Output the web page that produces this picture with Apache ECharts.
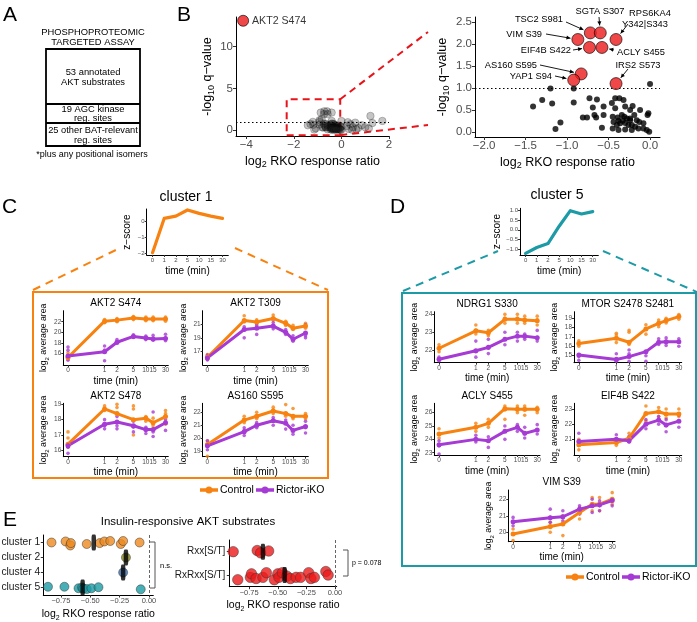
<!DOCTYPE html>
<html><head><meta charset="utf-8">
<script src="https://cdn.jsdelivr.net/npm/echarts@6/dist/echarts.min.js"></script>
<style>html,body{margin:0;padding:0;background:#fff}#c{width:697px;height:622px}</style>
</head><body><div id="c"></div>
<script>
// ---------------- DATA ----------------
const timePoints = [0, 1, 2, 5, 10, 15, 30];
const timeLabels = ['0', '1', '2', '5', '10', '15', '30'];

// Panel B volcano
const akt2S474Point = [-4.13, 13.1];
const hitNames = ['VIM S39', 'TSC2 S981', 'SGTA S307', 'RPS6KA4 Y342|S343', 'EIF4B S422', 'ACLY S455', 'AS160 S595', 'YAP1 S94', 'IRS2 S573'];
const hitX = [-0.87, -0.72, -0.60, -0.41, -0.73, -0.58, -0.83, -0.92, -0.41];
const hitY = [2.10, 2.25, 2.25, 2.10, 1.92, 1.92, 1.32, 1.18, 1.10];
const otherX = [-1.20, -0.92, 0.00, -1.30, -1.41, -1.18, -0.92, -1.08, -1.14,
  -0.73, -0.64, -0.69, -0.56, -0.46, -0.42, -0.37, -0.32, -0.42, -0.30, -0.24, -0.21, -0.12, -0.03, -0.02,
  -0.81, -0.76, -0.67, -0.65, -0.56, -0.45, -0.39, -0.34, -0.31, -0.28, -0.24, -0.19, -0.16, -0.13, -0.08,
  -0.58, -0.45, -0.40, -0.36, -0.33, -0.30, -0.26, -0.22, -0.18, -0.14, -0.08, -0.04, -0.01, -0.24, -0.38, -0.44,
  -0.38, -0.30, -0.22];
const otherY = [0.99, 0.99, 1.09, 0.73, 0.58, 0.65, 0.67, 0.22, 0.07,
  0.77, 0.74, 0.56, 0.58, 0.66, 0.77, 0.77, 0.73, 0.54, 0.58, 0.50, 0.59, 0.50, 0.39, 0.43,
  0.33, 0.33, 0.39, 0.33, 0.39, 0.35, 0.33, 0.39, 0.35, 0.31, 0.31, 0.39, 0.27, 0.23, 0.20,
  0.10, 0.08, 0.16, 0.20, 0.26, 0.21, 0.16, 0.16, 0.12, 0.08, 0.08, 0.05, 0.01, 0.27, 0.26, 0.23,
  0.05, 0.06, 0.05];
const extraX = [0.22, 0.30, 0.38, 0.48, 0.58, 0.70, 0.85, 1.00, 1.22, 1.72, 1.30, 0.27, 0.62, 1.15, 0.45];
const extraY = [0.50, 0.15, 0.70, 0.35, 0.90, 0.25, 0.60, 0.35, 1.70, 1.10, 0.85, 0.95, 0.10, 0.20, 0.05];

// Cluster z-score profiles
const cluster1Z = [-1.96, 0.16, 0.30, 0.68, 0.47, 0.30, 0.16];
const cluster5Z = [-1.20, -0.90, -0.70, 0.18, 0.97, 0.80, 0.92];

// Time courses (log2 average area): means and replicates, Control / Rictor-iKO
const akt2S474Ctrl = [15.2, 22.1, 22.3, 22.7, 22.5, 22.5, 22.5];
const akt2S474Ric = [15.5, 16.3, 18.1, 19.2, 18.9, 18.7, 18.8];
const akt2S474CtrlReps = [[16.1, 15.3, 14.9], [22.4, 21.8, 22.0], [22.6, 22.0, 22.3], [23.0, 22.4, 22.8], [22.9, 22.2, 22.5], [22.9, 22.2, 22.5], [22.9, 22.1, 22.5]];
const akt2S474RicReps = [[17.2, 16.6, 14.7], [17.4, 16.6, 14.6], [18.6, 17.9, 18.2], [19.5, 19.0, 19.2], [19.3, 18.6, 18.9], [19.4, 18.5, 18.7], [19.6, 18.4, 18.9]];

const akt2T309Ctrl = [16.2, 21.5, 21.3, 21.8, 21.1, 20.4, 20.7];
const akt2T309Ric = [16.1, 20.2, 20.4, 20.7, 19.8, 18.8, 19.7];
const akt2T309CtrlReps = [[16.6, 16.2, 15.9], [22.2, 21.3, 21.5], [21.6, 21.0, 21.3], [22.3, 21.6, 21.8], [21.4, 20.8, 21.1], [20.8, 20.2, 20.4], [21.1, 20.4, 20.7]];
const akt2T309RicReps = [[16.5, 16.0, 15.8], [20.6, 19.0, 20.2], [20.8, 19.5, 20.4], [21.2, 20.3, 20.7], [20.2, 19.5, 19.8], [19.3, 18.5, 18.8], [20.9, 19.0, 19.3]];

const akt2S478Ctrl = [16.4, 18.7, 18.4, 18.0, 18.1, 17.8, 18.2];
const akt2S478Ric = [16.3, 17.7, 17.85, 17.6, 17.35, 17.35, 17.8];
const akt2S478CtrlReps = [[17.2, 16.8, 16.2], [18.9, 18.6, 18.7], [19.0, 18.8, 18.4], [18.9, 18.7, 17.0], [18.2, 17.9, 18.1], [18.1, 17.6, 17.8], [18.6, 18.4, 17.7]];
const akt2S478RicReps = [[16.4, 16.2, 15.8], [18.0, 17.6, 17.4], [18.2, 17.6, 17.4], [17.9, 17.5, 17.2], [17.5, 17.3, 17.1], [18.5, 17.2, 16.9], [18.0, 17.8, 17.3]];

const as160S595Ctrl = [19.5, 21.4, 21.7, 22.1, 21.9, 21.7, 21.7];
const as160S595Ric = [19.4, 20.5, 21.0, 21.35, 21.15, 20.6, 20.9];
const as160S595CtrlReps = [[19.8, 19.4, 18.6], [21.7, 21.4, 21.2], [22.0, 21.7, 21.5], [22.4, 22.2, 21.9], [22.6, 21.9, 21.7], [22.3, 21.7, 21.5], [21.9, 21.7, 21.5]];
const as160S595RicReps = [[19.8, 19.5, 19.1], [20.8, 20.6, 20.2], [21.2, 21.0, 20.8], [21.6, 21.4, 21.0], [21.4, 21.2, 20.7], [21.0, 20.6, 20.3], [21.3, 20.8, 20.4]];

const ndrg1Ctrl = [22.1, 23.08, 22.97, 23.72, 23.72, 23.68, 23.64];
const ndrg1Ric = [21.48, 21.96, 22.15, 22.6, 22.78, 22.78, 22.69];
const ndrg1CtrlReps = [[22.3, 22.1, 21.9], [23.4, 23.1, 22.9], [23.1, 22.9, 22.8], [24.0, 23.8, 23.5], [24.0, 23.8, 23.5], [23.9, 23.7, 23.5], [23.9, 23.7, 23.4]];
const ndrg1RicReps = [[21.6, 21.5, 21.4], [22.5, 21.9, 21.6], [22.6, 22.1, 21.8], [23.0, 22.6, 22.3], [23.0, 22.8, 22.5], [22.9, 22.8, 22.6], [23.1, 22.7, 22.5]];

const mtorCtrl = [16.3, 16.86, 16.43, 17.86, 18.46, 18.75, 19.18];
const mtorRic = [15.07, 14.6, 14.9, 15.43, 16.43, 16.5, 16.5];
const mtorCtrlReps = [[16.6, 16.3, 16.0], [17.4, 17.2, 16.4], [17.7, 17.5, 16.2], [18.3, 17.9, 17.3], [18.8, 18.4, 18.1], [19.0, 18.7, 18.5], [19.4, 19.2, 18.9]];
const mtorRicReps = [[15.1, 14.9, 14.5], [15.2, 14.7, 14.4], [15.6, 15.2, 14.4], [15.4, 15.0, 14.4], [16.8, 16.4, 16.2], [16.9, 16.5, 16.1], [16.8, 16.5, 16.0]];

const aclyCtrl = [24.4, 24.9, 25.2, 26.3, 26.25, 26.25, 26.25];
const aclyRic = [23.6, 24.0, 23.9, 24.6, 24.9, 24.45, 24.7];
const aclyCtrlReps = [[24.8, 24.4, 24.1], [25.2, 24.9, 24.6], [25.5, 25.2, 24.9], [26.5, 26.2, 25.5], [26.5, 26.3, 26.0], [26.5, 26.2, 25.8], [26.4, 26.2, 26.0]];
const aclyRicReps = [[23.9, 23.5, 22.9], [24.3, 24.0, 23.8], [24.2, 23.9, 23.4], [25.0, 24.6, 24.0], [25.1, 24.9, 24.6], [24.9, 24.4, 24.1], [25.1, 24.7, 24.4]];

const eif4bCtrl = [20.63, 20.78, 21.07, 22.71, 22.82, 22.67, 22.67];
const eif4bRic = [20.85, 21.0, 20.91, 22.0, 22.27, 21.95, 22.2];
const eif4bCtrlReps = [[21.0, 20.6, 20.3], [21.0, 20.8, 20.6], [21.4, 21.1, 20.9], [23.2, 22.7, 22.2], [23.1, 22.8, 22.5], [23.0, 22.7, 22.4], [23.0, 22.7, 22.5]];
const eif4bRicReps = [[21.4, 20.9, 20.6], [21.3, 21.0, 20.8], [21.2, 20.9, 20.8], [22.3, 22.0, 21.7], [22.5, 22.3, 22.0], [22.3, 21.9, 21.5], [22.6, 22.2, 21.8]];

const vimCtrl = [19.9, 20.35, 20.5, 21.2, 21.7, 21.7, 22.0];
const vimRic = [20.64, 20.88, 20.94, 21.4, 21.6, 21.66, 21.92];
const vimCtrlReps = [[20.2, 19.9, 19.5], [20.6, 20.3, 20.0], [21.0, 20.5, 19.8], [21.5, 21.2, 20.8], [22.1, 21.7, 21.3], [22.1, 21.7, 21.3], [22.4, 22.0, 21.7]];
const vimRicReps = [[20.9, 20.6, 20.4], [21.4, 20.9, 20.6], [21.3, 20.9, 20.7], [21.6, 21.4, 21.1], [22.0, 21.6, 21.2], [21.9, 21.6, 21.3], [22.0, 21.9, 21.6]];

// Panel E
const clusterNames = ['cluster 1', 'cluster 2', 'cluster 4', 'cluster 5'];
const cluster1X = [-0.83, -0.71, -0.67, -0.665, -0.53, -0.42, -0.38, -0.33, -0.24, -0.22, -0.08];
const cluster1J = [0.0, -0.07, 0.2, 0.04, 0.1, 0.04, -0.07, -0.1, 0.1, -0.1, 0.0];
const cluster2X = [-0.196];
const cluster4X = [-0.22];
const cluster5X = [-0.86, -0.72, -0.60, -0.57, -0.56, -0.53, -0.49, -0.43, -0.07];
const cluster5J = [-0.05, -0.05, 0.05, 0.0, 0.08, 0.1, 0.05, -0.02, 0.12];
const clusterMedians = [-0.47, -0.196, -0.22, -0.565];
const motifNames = ['Rxx[S/T]', 'RxRxx[S/T]'];
const rxxX = [-0.89, -0.68, -0.65, -0.58];
const rxxJ = [0.0, -0.05, 0.05, -0.03];
const rxrxxX = [-0.85, -0.74, -0.73, -0.69, -0.63, -0.60, -0.53, -0.50, -0.49, -0.46, -0.42, -0.39, -0.34, -0.30, -0.23, -0.21, -0.18, -0.08, -0.06];
const rxrxxJ = [0.2, 0.1, -0.05, 0.15, 0.1, -0.1, 0.2, -0.05, 0.1, -0.1, 0.05, 0.15, 0.1, 0.1, -0.1, 0.15, 0.1, -0.15, 0.0];
const motifMedians = [-0.63, -0.44];

// ---------------- STYLE / LAYOUT ----------------
const F = '"Liberation Sans", Arial, Helvetica, sans-serif';
const ORANGE = '#F8820F', PURPLE = '#A63AD4', TEAL = '#1C9AA6', RED = '#EC1A1A';
const T0 = 0.13; // axis position used for t = 0 on the log time axis
const timePos = timePoints.map(t => (t === 0 ? T0 : t));
const minus = s => s.replace('-', '\u2212');

const chart = echarts.init(document.getElementById('c'), null, {renderer: 'canvas', width: 697, height: 622});
const grids = [], xAxes = [], yAxes = [], series = [];

function richName(sz) {
  const sub = Math.round(sz * 0.68);
  return {fontFamily: F, fontSize: sz, color: '#000',
    rich: {a: {fontFamily: F, fontSize: sz, color: '#000', lineHeight: sz + 4, verticalAlign: 'middle'},
           b: {fontFamily: F, fontSize: sub, color: '#000', lineHeight: sub, verticalAlign: 'bottom'}}};
}
function addGrid(box) {
  grids.push(Object.assign({show: false, containLabel: false, outerBoundsMode: 'none'}, box));
  return grids.length - 1;
}
function mkAxis(o) {
  const a = {
    type: o.type || 'value', gridIndex: o.gi, inverse: !!o.inverse,
    axisLine: {show: true, onZero: false, lineStyle: {color: '#000', width: 1}},
    axisTick: {show: true, length: o.tickLen || 2.5, lineStyle: {color: '#333', width: 1}},
    axisLabel: {show: true, formatter: o.fmt, fontSize: o.fontSize || 7, fontFamily: F,
      color: o.labelColor || '#4d4d4d', margin: o.labelMargin == null ? 2 : o.labelMargin},
    splitLine: {show: false}, minorTick: {show: false}, minorSplitLine: {show: false}
  };
  if (o.type === 'category') {
    a.data = o.data; a.boundaryGap = true; a.axisTick.alignWithLabel = true; a.axisTick.interval = 0; a.axisLabel.interval = 0;
  } else {
    a.min = o.min; a.max = o.max;
    a.axisTick.customValues = o.ticks; a.axisLabel.customValues = o.ticks;
  }
  if (o.type === 'log') a.logBase = 10;
  if (o.name) {
    a.name = o.name; a.nameLocation = 'middle'; a.nameGap = o.nameGap;
    a.nameRotate = o.rotateName ? 90 : 0; a.nameTextStyle = richName(o.nameSize || 10);
  }
  return a;
}
const fmtTime = v => (v < 0.5 ? '0' : String(Math.round(v)));

const graphics = [];
function txt(text, x, y, size, extra) {
  graphics.push({type: 'text', silent: true, z: 100,
    style: Object.assign({text: text, x: x, y: y, font: size + 'px ' + F, fill: '#000', align: 'center', verticalAlign: 'middle'}, extra || {})});
}
function gline(x1, y1, x2, y2, color, w, dash) {
  graphics.push({type: 'line', silent: true, z: 90, shape: {x1, y1, x2, y2},
    style: {stroke: color, lineWidth: w, lineDash: dash || null}});
}
function grect(x, y, w, h, color, lw) {
  graphics.push({type: 'rect', silent: true, z: 90, shape: {x, y, width: w, height: h},
    style: {fill: null, stroke: color, lineWidth: lw}});
}

// ---------- Panel B ----------
const gBL = addGrid({left: 236, top: 17, width: 153, height: 119});
xAxes.push(mkAxis({gi: gBL, min: -4.43, max: 2, ticks: [-4, -2, 0, 2], fmt: v => minus(String(v)), fontSize: 11.5, labelMargin: 3, tickLen: 3,
  name: '{a|log}{b|2}{a| RKO response ratio}', nameGap: 17, nameSize: 12.5}));
yAxes.push(mkAxis({gi: gBL, min: -0.7, max: 13.55, ticks: [0, 5, 10], fmt: v => String(v), fontSize: 11.5, labelMargin: 3, tickLen: 3,
  name: '{a|-log}{b|10}{a| q\u2212value}', nameGap: 20, nameSize: 12.5, rotateName: true}));

const grayData = [];
otherX.forEach((x, i) => grayData.push([x, otherY[i]]));
hitX.forEach((x, i) => grayData.push([x, hitY[i]]));
extraX.forEach((x, i) => grayData.push([x, extraY[i]]));
series.push({type: 'scatter', xAxisIndex: gBL, yAxisIndex: gBL, data: grayData, symbolSize: 7.5, silent: true,
  itemStyle: {color: 'rgba(30,30,30,0.32)', borderColor: 'rgba(0,0,0,0.35)', borderWidth: 0.8},
  markLine: {silent: true, symbol: 'none', label: {show: false}, lineStyle: {color: '#000', type: [1.5, 2.5], width: 1},
    data: [{yAxis: 1}]},
  markArea: {silent: true, itemStyle: {color: 'rgba(0,0,0,0)', borderColor: '#E8141A', borderWidth: 2, borderType: [7, 5]},
    data: [[{coord: [-2.3, -0.6]}, {coord: [-0.05, 3.7]}]]}
});
series.push({type: 'scatter', xAxisIndex: gBL, yAxisIndex: gBL, data: [akt2S474Point], symbolSize: 11, silent: true, z: 5,
  itemStyle: {color: RED, borderColor: '#000', borderWidth: 0.8},
  label: {show: true, position: 'right', distance: 3, formatter: 'AKT2 S474', fontFamily: F, fontSize: 10.6, color: '#000'}});

const gBR = addGrid({left: 475, top: 17, width: 185, height: 120});
const fmt1 = v => minus(v.toFixed(1));
xAxes.push(mkAxis({gi: gBR, min: -2.11, max: 0.12, ticks: [-2, -1.5, -1, -0.5, 0], fmt: fmt1, fontSize: 11.5, labelMargin: 3, tickLen: 3,
  name: '{a|log}{b|2}{a| RKO response ratio}', nameGap: 17, nameSize: 12.5}));
yAxes.push(mkAxis({gi: gBR, min: -0.11, max: 2.61, ticks: [0, 0.5, 1, 1.5, 2, 2.5], fmt: fmt1, fontSize: 11.5, labelMargin: 3, tickLen: 3,
  name: '{a|-log}{b|10}{a| q\u2212value}', nameGap: 24, nameSize: 12.5, rotateName: true}));
series.push({type: 'scatter', xAxisIndex: gBR, yAxisIndex: gBR, data: otherX.map((x, i) => [x, otherY[i]]), symbolSize: 6, silent: true,
  itemStyle: {color: '#000'},
  markLine: {silent: true, symbol: 'none', label: {show: false}, lineStyle: {color: '#000', type: [1.5, 2.5], width: 1},
    data: [{yAxis: 1}]}});
series.push({type: 'scatter', xAxisIndex: gBR, yAxisIndex: gBR, data: hitX.map((x, i) => [x, hitY[i]]), symbolSize: 12, silent: true, z: 5,
  itemStyle: {color: RED, borderColor: '#000', borderWidth: 0.8}});

// hit labels (layout only)
const hitLabelLayout = [
  {hit: 'SGTA S307', lines: [['SGTA S307', 600, 11]], align: 'center', ax: 599, ay: 17},
  {hit: 'TSC2 S981', lines: [['TSC2 S981', 563, 19]], align: 'right', ax: 566, ay: 22},
  {hit: 'RPS6KA4 Y342|S343', lines: [['RPS6KA4', 650, 13], ['Y342|S343', 645, 24]], align: 'center', ax: 628, ay: 24},
  {hit: 'VIM S39', lines: [['VIM S39', 542, 34]], align: 'right', ax: 546, ay: 34},
  {hit: 'EIF4B S422', lines: [['EIF4B S422', 571, 50]], align: 'right', ax: 573, ay: 50},
  {hit: 'ACLY S455', lines: [['ACLY S455', 617, 52]], align: 'left', ax: 614, ay: 50},
  {hit: 'AS160 S595', lines: [['AS160 S595', 537, 65]], align: 'right', ax: 540, ay: 65},
  {hit: 'YAP1 S94', lines: [['YAP1 S94', 552, 76]], align: 'right', ax: 555, ay: 76},
  {hit: 'IRS2 S573', lines: [['IRS2 S573', 638, 65]], align: 'center', ax: 628, ay: 69}
];

// ---------- Panels C / D : cluster profiles ----------
function clusterPlot(box, z, color, yMin, yMax, yTicks, fmt) {
  const gi = addGrid(box);
  xAxes.push(mkAxis({gi, type: 'category', data: timeLabels, fmt: v => v, fontSize: 6, tickLen: 2,
    name: '{a|time (min)}', nameGap: 9, nameSize: 10}));
  yAxes.push(mkAxis({gi, min: yMin, max: yMax, ticks: yTicks, fmt: fmt, fontSize: 6, tickLen: 2,
    name: '{a|z\u2212score}', nameGap: 12, nameSize: 10, rotateName: true}));
  series.push({type: 'line', xAxisIndex: gi, yAxisIndex: gi, data: z, symbol: 'none', silent: true,
    lineStyle: {color, width: 3.2, cap: 'round', join: 'round'}});
}
clusterPlot({left: 146.7, top: 209, width: 81.6, height: 46}, cluster1Z, ORANGE, -2.1, 0.74, [-2, -1, 0], v => minus(String(v)));
clusterPlot({left: 520, top: 208.3, width: 78.3, height: 46.7}, cluster5Z, TEAL, -1.28, 1.09, [-1, -0.5, 0, 0.5, 1], fmt1);

// ---------- time-course subplots ----------
const sitePlots = [
  {title: 'AKT2 S474', box: {left: 63.3, top: 310.7, width: 105, height: 54.3}, yMin: 13.78, yMax: 24.09, yTicks: [16, 18, 20, 22],
    ctrl: akt2S474Ctrl, ric: akt2S474Ric, ctrlReps: akt2S474CtrlReps, ricReps: akt2S474RicReps},
  {title: 'AKT2 T309', box: {left: 202.7, top: 310.7, width: 105.6, height: 54.3}, yMin: 15.08, yMax: 22.92, yTicks: [17, 19, 21],
    ctrl: akt2T309Ctrl, ric: akt2T309Ric, ctrlReps: akt2T309CtrlReps, ricReps: akt2T309RicReps},
  {title: 'AKT2 S478', box: {left: 63.3, top: 403.3, width: 105, height: 53.4}, yMin: 15.58, yMax: 19.07, yTicks: [16, 17, 18, 19],
    ctrl: akt2S478Ctrl, ric: akt2S478Ric, ctrlReps: akt2S478CtrlReps, ricReps: akt2S478RicReps},
  {title: 'AS160 S595', box: {left: 202.7, top: 403.3, width: 105.6, height: 53.4}, yMin: 18.56, yMax: 22.7, yTicks: [19, 20, 21, 22],
    ctrl: as160S595Ctrl, ric: as160S595Ric, ctrlReps: as160S595CtrlReps, ricReps: as160S595RicReps},
  {title: 'NDRG1 S330', box: {left: 434.3, top: 311.7, width: 105.7, height: 51}, yMin: 21.29, yMax: 24.15, yTicks: [22, 23, 24],
    ctrl: ndrg1Ctrl, ric: ndrg1Ric, ctrlReps: ndrg1CtrlReps, ricReps: ndrg1RicReps},
  {title: 'MTOR S2478 S2481', box: {left: 574, top: 311.7, width: 107.7, height: 51}, yMin: 14.25, yMax: 19.7, yTicks: [15, 16, 17, 18, 19],
    ctrl: mtorCtrl, ric: mtorRic, ctrlReps: mtorCtrlReps, ricReps: mtorRicReps},
  {title: 'ACLY S455', box: {left: 434.3, top: 403.3, width: 105.7, height: 51.7}, yMin: 22.83, yMax: 26.7, yTicks: [23, 24, 25, 26],
    ctrl: aclyCtrl, ric: aclyRic, ctrlReps: aclyCtrlReps, ricReps: aclyRicReps},
  {title: 'EIF4B S422', box: {left: 574, top: 403.3, width: 107.7, height: 51.7}, yMin: 19.96, yMax: 23.38, yTicks: [21, 22, 23],
    ctrl: eif4bCtrl, ric: eif4bRic, ctrlReps: eif4bCtrlReps, ricReps: eif4bRicReps},
  {title: 'VIM S39', box: {left: 508.3, top: 490, width: 106.7, height: 51.7}, yMin: 19.43, yMax: 22.56, yTicks: [20, 21, 22],
    ctrl: vimCtrl, ric: vimRic, ctrlReps: vimCtrlReps, ricReps: vimRicReps}
];
sitePlots.forEach(sp => {
  const gi = addGrid(sp.box);
  xAxes.push(mkAxis({gi, type: 'log', min: 0.1, max: 35, ticks: timePos, fmt: fmtTime, fontSize: 6.5, tickLen: 2,
    name: '{a|time (min)}', nameGap: 9, nameSize: 10}));
  yAxes.push(mkAxis({gi, min: sp.yMin, max: sp.yMax, ticks: sp.yTicks, fmt: v => String(v), fontSize: 6.5, tickLen: 2,
    name: '{a|log}{b|2}{a| average area}', nameGap: 11, nameSize: 8.7, rotateName: true}));
  [[sp.ctrlReps, ORANGE], [sp.ricReps, PURPLE]].forEach(([reps, color]) => {
    const d = [];
    reps.forEach((vals, i) => vals.forEach(v => d.push([timePos[i], v])));
    series.push({type: 'scatter', xAxisIndex: gi, yAxisIndex: gi, data: d, symbolSize: 3.6, silent: true, z: 2, itemStyle: {color}});
  });
  [[sp.ctrl, ORANGE], [sp.ric, PURPLE]].forEach(([m, color]) => {
    series.push({type: 'line', xAxisIndex: gi, yAxisIndex: gi, data: m.map((v, i) => [timePos[i], v]), silent: true, z: 3,
      symbol: 'circle', symbolSize: 5, showSymbol: true, itemStyle: {color}, lineStyle: {color, width: 3}});
  });
  txt(sp.title, sp.box.left + sp.box.width / 2, sp.box.top - 7.5, 10);
});

// ---------- Panel E ----------
const fmt2 = v => minus(v.toFixed(2));
const gEL = addGrid({left: 43.3, top: 535, width: 110, height: 60});
xAxes.push(mkAxis({gi: gEL, min: -0.9, max: 0.037, ticks: [-0.75, -0.5, -0.25, 0], fmt: fmt2, fontSize: 7.5, tickLen: 2.5,
  name: '{a|log}{b|2}{a| RKO response ratio}', nameGap: 12, nameSize: 10.5}));
yAxes.push(mkAxis({gi: gEL, min: -0.5, max: 3.5, inverse: true, ticks: [0, 1, 2, 3], fmt: v => clusterNames[Math.round(v)], fontSize: 10.3,
  labelColor: '#1a1a1a', labelMargin: 3, tickLen: 2.5}));
const eDot = (color) => ({color, borderColor: '#333', borderWidth: 0.6});
series.push({type: 'scatter', xAxisIndex: gEL, yAxisIndex: gEL, data: cluster1X.map((x, i) => [x, 0 + cluster1J[i]]), symbolSize: 9, silent: true,
  itemStyle: eDot('#EE8A1E'),
  markLine: {silent: true, symbol: 'none', label: {show: false}, lineStyle: {color: '#666', type: [3, 2], width: 1}, data: [{xAxis: 0}]}});
series.push({type: 'scatter', xAxisIndex: gEL, yAxisIndex: gEL, data: cluster2X.map(x => [x, 1]), symbolSize: 9, silent: true, itemStyle: eDot('#8C8A1E')});
series.push({type: 'scatter', xAxisIndex: gEL, yAxisIndex: gEL, data: cluster4X.map(x => [x, 2]), symbolSize: 9, silent: true, itemStyle: eDot('#3A6FB0')});
series.push({type: 'scatter', xAxisIndex: gEL, yAxisIndex: gEL, data: cluster5X.map((x, i) => [x, 3 + cluster5J[i]]), symbolSize: 9, silent: true, itemStyle: eDot('#1A9BA5')});
series.push({type: 'scatter', xAxisIndex: gEL, yAxisIndex: gEL, data: clusterMedians.map((x, i) => [x, i]), symbol: 'roundRect', symbolSize: [4.5, 16],
  silent: true, z: 6, itemStyle: {color: '#000'}});

const gER = addGrid({left: 229.3, top: 540, width: 107.4, height: 46.7});
xAxes.push(mkAxis({gi: gER, min: -0.924, max: 0.015, ticks: [-0.75, -0.5, -0.25, 0], fmt: fmt2, fontSize: 7.5, tickLen: 2.5,
  name: '{a|log}{b|2}{a| RKO response ratio}', nameGap: 11, nameSize: 10.5}));
yAxes.push(mkAxis({gi: gER, min: -0.5, max: 1.5, inverse: true, ticks: [0, 1], fmt: v => motifNames[Math.round(v)], fontSize: 10,
  labelColor: '#1a1a1a', labelMargin: 4, tickLen: 2.5}));
series.push({type: 'scatter', xAxisIndex: gER, yAxisIndex: gER, data: rxxX.map((x, i) => [x, 0 + rxxJ[i]]), symbolSize: 10.5, silent: true,
  itemStyle: eDot(RED),
  markLine: {silent: true, symbol: 'none', label: {show: false}, lineStyle: {color: '#666', type: [3, 2], width: 1}, data: [{xAxis: 0}]}});
series.push({type: 'scatter', xAxisIndex: gER, yAxisIndex: gER, data: rxrxxX.map((x, i) => [x, 1 + rxrxxJ[i]]), symbolSize: 10.5, silent: true,
  itemStyle: eDot(RED)});
series.push({type: 'scatter', xAxisIndex: gER, yAxisIndex: gER, data: motifMedians.map((x, i) => [x, i]), symbol: 'roundRect', symbolSize: [4.5, 16],
  silent: true, z: 6, itemStyle: {color: '#000'}});

chart.setOption({animation: false, backgroundColor: '#fff', grid: grids, xAxis: xAxes, yAxis: yAxes, series: series});

// ---------- decorations ----------
// Panel letters
txt('A', 3, 15, 21, {align: 'left'});
txt('B', 177, 15, 21, {align: 'left'});
txt('C', 2, 207, 21, {align: 'left'});
txt('D', 390, 207, 21, {align: 'left'});
txt('E', 3, 520, 21, {align: 'left'});

// Panel A
txt('PHOSPHOPROTEOMIC', 93, 32, 9.4);
txt('TARGETED ASSAY', 93, 42, 9.4);
grect(46, 49, 94, 97, '#000', 1.8);
gline(46, 104, 140, 104, '#000', 1.8);
gline(46, 123, 140, 123, '#000', 1.8);
txt('53 annotated', 93, 72, 9.4);
txt('AKT substrates', 93, 82.5, 9.4);
txt('19 AGC kinase', 93, 109.5, 9.4);
txt('reg. sites', 93, 118.5, 9.4);
txt('25 other BAT-relevant', 93, 130, 9.3);
txt('reg. sites', 93, 140, 9.4);
txt('*plus any positional isomers', 92, 155, 9);

// Panel B hit labels with arrows
function arrow(x1, y1, x2, y2) {
  gline(x1, y1, x2, y2, '#000', 0.9);
  const dx = x2 - x1, dy = y2 - y1, L = Math.hypot(dx, dy) || 1, ux = dx / L, uy = dy / L;
  const s = 4, w = 2;
  graphics.push({type: 'polygon', silent: true, z: 91,
    shape: {points: [[x2, y2], [x2 - ux * s - uy * w, y2 - uy * s + ux * w], [x2 - ux * s + uy * w, y2 - uy * s - ux * w]]},
    style: {fill: '#000'}});
}
hitLabelLayout.forEach(h => {
  h.lines.forEach(([t, x, y]) => txt(t, x, y, 9.3, {align: h.align}));
  const k = hitNames.indexOf(h.hit);
  const c = chart.convertToPixel({gridIndex: gBR}, [hitX[k], hitY[k]]);
  const dx = h.ax - c[0], dy = h.ay - c[1], L = Math.hypot(dx, dy) || 1;
  arrow(h.ax, h.ay, c[0] + dx / L * 7.5, c[1] + dy / L * 7.5);
});
// zoom connectors from the dashed rectangle
const rTop = chart.convertToPixel({gridIndex: gBL}, [-0.05, 3.7]);
const rBot = chart.convertToPixel({gridIndex: gBL}, [-0.05, -0.6]);
gline(rTop[0], rTop[1], 428, 32, '#E8141A', 2, [7, 5]);
gline(rBot[0], rBot[1], 428, 125, '#E8141A', 2, [7, 5]);

// Panel C / D titles, connectors, boxes
txt('cluster 1', 186, 197, 14);
txt('cluster 5', 557, 195, 14);
gline(33, 290, 120, 248, ORANGE, 2, [8, 6]);
gline(235, 248, 328, 290, ORANGE, 2, [8, 6]);
grect(33, 292, 295, 186, ORANGE, 2);
gline(403, 291, 498, 251, TEAL, 2, [8, 6]);
gline(603, 251, 697, 292, TEAL, 2, [8, 6]);
grect(402, 293, 294, 273, TEAL, 2);

// Legends
function legend(x, y) {
  gline(x, y, x + 18, y, ORANGE, 3.5);
  graphics.push({type: 'circle', silent: true, z: 92, shape: {cx: x + 9, cy: y, r: 3.5}, style: {fill: ORANGE}});
  txt('Control', x + 20, y, 10.5, {align: 'left'});
  gline(x + 56, y, x + 74, y, PURPLE, 3.5);
  graphics.push({type: 'circle', silent: true, z: 92, shape: {cx: x + 65, cy: y, r: 3.5}, style: {fill: PURPLE}});
  txt('Rictor-iKO', x + 76, y, 10.5, {align: 'left'});
}
legend(200, 490);
legend(566, 577);

// Panel E
txt('Insulin-responsive AKT substrates', 188, 522, 11.5);
graphics.push({type: 'polyline', silent: true, z: 90, shape: {points: [[150, 542], [155, 542], [155, 588], [150, 588]]},
  style: {stroke: '#555', lineWidth: 1, fill: null}});
txt('n.s.', 160, 566, 7.5, {align: 'left'});
graphics.push({type: 'polyline', silent: true, z: 90, shape: {points: [[343, 550], [348, 550], [348, 576], [343, 576]]},
  style: {stroke: '#555', lineWidth: 1, fill: null}});
txt('p = 0.078', 352, 563, 7, {align: 'left'});

chart.setOption({graphic: graphics});
</script>
</body></html>
